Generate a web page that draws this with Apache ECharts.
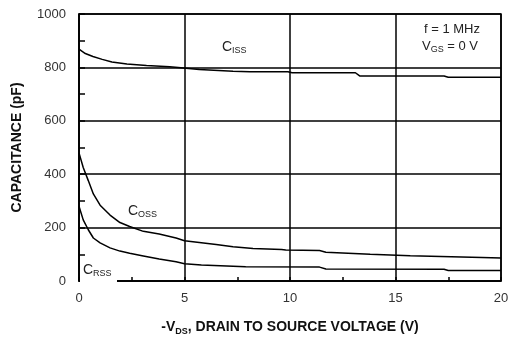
<!DOCTYPE html>
<html>
<head>
<meta charset="utf-8">
<script src="https://cdn.jsdelivr.net/npm/echarts@6/dist/echarts.min.js"></script>
<style>
  html, body { margin: 0; padding: 0; background: #fff; }
  #main { width: 515px; height: 341px; }
</style>
</head>
<body>
<div id="main"></div>
<script>
/* data */
var cissV = [0, 0.3, 0.66, 1.1, 1.56, 2.27, 3.2, 4.3, 4.7, 5.7, 7.3, 8.1, 9.9, 10.1, 13.1, 13.3, 17.3, 17.5, 20];
var cissC = [868, 852, 841, 830, 820, 813, 807, 802, 800, 792, 786, 784, 784, 780, 780, 768, 768, 763, 763];

var cossV = [0, 0.2, 0.44, 0.68, 1.0, 1.47, 1.94, 2.4, 3.05, 3.8, 4.6, 5, 6.5, 7.3, 8.25, 9.6, 9.8, 11.4, 11.7, 13.8, 15.7, 19.1, 20];
var cossC = [480, 425, 376, 326, 284, 247, 219, 204, 186, 176, 161, 151, 137, 128, 122, 118, 116, 114, 108, 100, 95, 88, 86];

var crssV = [0, 0.2, 0.44, 0.68, 1.0, 1.47, 1.94, 2.4, 3.05, 3.8, 4.6, 5, 5.8, 7.9, 11.4, 11.7, 17.3, 17.5, 20];
var crssC = [280, 229, 192, 161, 143, 124, 112, 104, 94, 82, 72, 65, 60, 53, 52, 45, 44, 39, 39];

var xTicks = [0, 5, 10, 15, 20];
var yTicks = [0, 200, 400, 600, 800, 1000];

function pairs(xs, ys) {
  return xs.map(function (x, i) { return [x, ys[i]]; });
}

var chart = echarts.init(document.getElementById('main'));

var black = { color: '#000', width: 1.5 };
var font = 'Liberation Sans, Arial, sans-serif';

chart.setOption({
  animation: false,
  grid: {
    left: 79, top: 14, right: 14, bottom: 56,
    show: true, borderColor: '#000', borderWidth: 1.5
  },
  xAxis: {
    type: 'value',
    min: xTicks[0], max: xTicks[xTicks.length - 1], interval: 5,
    axisLine: { show: true, lineStyle: black },
    axisTick: { show: true, inside: true, length: 4, lineStyle: black },
    minorTick: { show: true, splitNumber: 2, length: 4, lineStyle: black },
    splitLine: { show: true, lineStyle: black },
    axisLabel: { color: '#333', fontSize: 13, fontFamily: font, margin: 11, formatter: function (v) { return String(v); } },
    name: '-V{s|DS}, DRAIN TO SOURCE VOLTAGE (V)',
    nameLocation: 'middle',
    nameGap: 38,
    nameTextStyle: {
      fontFamily: font, fontWeight: 'bold', fontSize: 14, color: '#111',
      rich: { s: { fontFamily: font, fontWeight: 'bold', fontSize: 9, color: '#111', padding: [8, 0, 0, 0] } }
    }
  },
  yAxis: {
    type: 'value',
    min: yTicks[0], max: yTicks[yTicks.length - 1], interval: 200,
    axisLine: { show: true, lineStyle: black },
    axisTick: { show: true, inside: true, length: 6, lineStyle: black },
    minorTick: { show: true, splitNumber: 2, length: 6, lineStyle: black },
    splitLine: { show: true, lineStyle: black },
    axisLabel: { color: '#333', fontSize: 13, fontFamily: font, margin: 13, formatter: function (v) { return String(v); } },
    name: 'CAPACITANCE (pF)',
    nameLocation: 'middle',
    nameGap: 55,
    nameTextStyle: { fontFamily: font, fontWeight: 'bold', fontSize: 14, color: '#111' }
  },
  series: [
    { name: 'Ciss', type: 'line', data: pairs(cissV, cissC), showSymbol: false, lineStyle: black, z: 5 },
    { name: 'Coss', type: 'line', data: pairs(cossV, cossC), showSymbol: false, lineStyle: black, z: 5 },
    { name: 'Crss', type: 'line', data: pairs(crssV, crssC), showSymbol: false, lineStyle: black, z: 5 }
  ],
  graphic: [
    // gap in the bottom frame under the C_RSS label
    { type: 'rect', left: 80, top: 280, shape: { width: 37, height: 9 }, style: { fill: '#fff' }, z: 100 },
    {
      type: 'text', left: 222, top: 40, z: 101,
      style: {
        text: 'C{s|ISS}', fill: '#222', font: '14px ' + font,
        rich: { s: { fontSize: 9, fontFamily: font, fill: '#222', padding: [7, 0, 0, 0] } }
      }
    },
    {
      type: 'text', left: 128, top: 204, z: 101,
      style: {
        text: 'C{s|OSS}', fill: '#222', font: '14px ' + font,
        rich: { s: { fontSize: 9, fontFamily: font, fill: '#222', padding: [7, 0, 0, 0] } }
      }
    },
    {
      type: 'text', left: 83, top: 263, z: 101,
      style: {
        text: 'C{s|RSS}', fill: '#222', font: '14px ' + font,
        rich: { s: { fontSize: 9, fontFamily: font, fill: '#222', padding: [7, 0, 0, 0] } }
      }
    },
    {
      type: 'text', left: 424, top: 23, z: 101,
      style: { text: 'f = 1 MHz', fill: '#222', font: '13px ' + font }
    },
    {
      type: 'text', left: 422, top: 40, z: 101,
      style: {
        text: 'V{s|GS} = 0 V', fill: '#222', font: '13px ' + font,
        rich: { s: { fontSize: 9, fontFamily: font, fill: '#222', padding: [7, 0, 0, 0] } }
      }
    }
  ]
});
</script>
</body>
</html>
